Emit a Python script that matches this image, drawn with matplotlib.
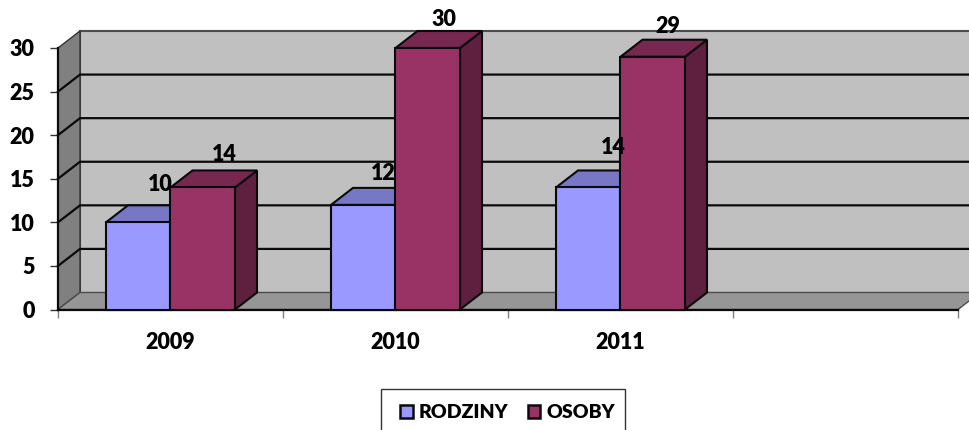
# coding: utf-8
"""3D looking clustered bars, RODZINY / OSOBY per year
"""
import numpy as np
import matplotlib
matplotlib.use("Agg")
import matplotlib.pyplot as plt
from matplotlib.patches import Polygon, Rectangle

###############################################################################
# data
years = ['2009', '2010', '2011', '']
rodziny = [10, 12, 14]
osoby = [14, 30, 29]
y_ticks = [0, 5, 10, 15, 20, 25, 30]

###############################################################################
# style
plt.rcParams['font.family'] = ['Lato', 'DejaVu Sans']
plt.rcParams['font.weight'] = 'heavy'

W, H = 970, 430
left, right, bottom, top = 58, 958, 309.5, 48
bar_w = 64.5 / 225.0
dx = 22 / 225.0  # depth of the fake 3d, in data units
dy = 17 / ((bottom - top) / 30.0)

blue = ['#9999FF', '#7777C6', '#5A5A99']
maroon = ['#993366', '#772850', '#5F2040']
edge = '#0A0A0A'
fs = 15.5

###############################################################################
# plotting
fig = plt.figure(figsize=(W / 100.0, H / 100.0), dpi=100)
ax = fig.add_axes([left / W, 1 - bottom / H,
                   (right - left) / W, (bottom - top) / H])
ax.set_xlim(-0.5, 3.5)
ax.set_ylim(0, 30)
ax.patch.set_visible(False)
for s in ax.spines.values():
    s.set_visible(False)


def poly(pts, color, ec=edge, lw=1.5, z=1):
    ax.add_patch(Polygon(pts, closed=True, facecolor=color, edgecolor=ec,
                         linewidth=lw, zorder=z, clip_on=False,
                         joinstyle='miter'))


x0, x1 = -0.5, 3.5
ymax = y_ticks[-1]

# walls and floor
poly([(x0 + dx, dy), (x1 + dx, dy), (x1 + dx, ymax + dy), (x0 + dx, ymax + dy)],
     '#C0C0C0', ec='#4D4D4D', z=1)
poly([(x0, 0), (x0 + dx, dy), (x0 + dx, ymax + dy), (x0, ymax)],
     '#808080', ec='#333333', lw=1.0, z=1)
poly([(x0, 0), (x1, 0), (x1 + dx, dy), (x0 + dx, dy)],
     '#969696', ec='#4D4D4D', lw=1.0, z=1)

# gridlines, running along the left wall then the back wall
for v in y_ticks[1:-1]:
    ax.plot([x0, x0 + dx, x1 + dx], [v, v + dy, v + dy], color=edge, lw=1.6,
            zorder=2, clip_on=False, solid_joinstyle='miter')
ax.plot([x0, x0], [0, ymax], color=edge, lw=1.6, zorder=2, clip_on=False)
ax.plot([x0, x1], [0, 0], color=edge, lw=1.6, zorder=2, clip_on=False)

# bars
x = np.arange(len(rodziny))
for xs, vals, cols, z in [(x - bar_w / 2, rodziny, blue, 3),
                          (x + bar_w / 2, osoby, maroon, 5)]:
    bars = ax.bar(xs, vals, bar_w, color=cols[0], edgecolor=edge,
                  linewidth=1.5, zorder=z + 0.5, clip_on=False)
    for b, v in zip(bars, vals):
        l, r = b.get_x(), b.get_x() + b.get_width()
        poly([(r, 0), (r + dx, dy), (r + dx, v + dy), (r, v)], cols[2], z=z)
        poly([(l, v), (r, v), (r + dx, v + dy), (l + dx, v + dy)], cols[1], z=z)

# value labels, they are not placed evenly in the original
off_r = [(22, 38), (20, 31), (25, 40)]
off_o = [(22, 33), (16, 28), (15, 30)]
for xs, vals, offs in [(x - bar_w / 2, rodziny, off_r),
                       (x + bar_w / 2, osoby, off_o)]:
    for px, v, (ox, oy) in zip(xs, vals, offs):
        ax.annotate(str(v), (px, v), xytext=(ox * 0.72, oy * 0.72),
                    textcoords='offset points', ha='center', va='center',
                    fontsize=fs, fontweight='heavy', color='black', zorder=8,
                    annotation_clip=False)

# axes
ax.set_yticks(y_ticks)
ax.tick_params(axis='y', length=5.8, width=1.0, color='#333333', pad=11,
               labelsize=fs)
ax.set_xticks(np.arange(-0.5, 4.0, 1.0))
ax.set_xticklabels([])
ax.tick_params(axis='x', which='major', length=5.8, width=1.0, color='#808080')
ax.set_xticks(np.arange(len(years)), labels=years, minor=True)
ax.tick_params(axis='x', which='minor', length=0, pad=16, labelsize=fs)

# legend, its box runs off the bottom of the picture
fig.add_artist(Rectangle((381 / W, -0.02), 244 / W, 0.02 + 1 - 389 / H,
                         transform=fig.transFigure, facecolor='white',
                         edgecolor='#333333', linewidth=1.0))
handles = [Rectangle((0, 0), 1, 1, facecolor=blue[0], edgecolor=edge, lw=1.8),
           Rectangle((0, 0), 1, 1, facecolor=maroon[0], edgecolor=edge, lw=1.8)]
leg = fig.legend(handles, ['RODZINY', 'OSOBY'], ncols=2, loc='center',
                 bbox_to_anchor=(507.5 / W, 1 - 413 / H),
                 bbox_transform=fig.transFigure, borderaxespad=0, frameon=False,
                 fontsize=14, handlelength=0.65, handleheight=0.65,
                 handletextpad=0.3, columnspacing=1.0, borderpad=0)

plt.savefig('out.png', dpi=100)
